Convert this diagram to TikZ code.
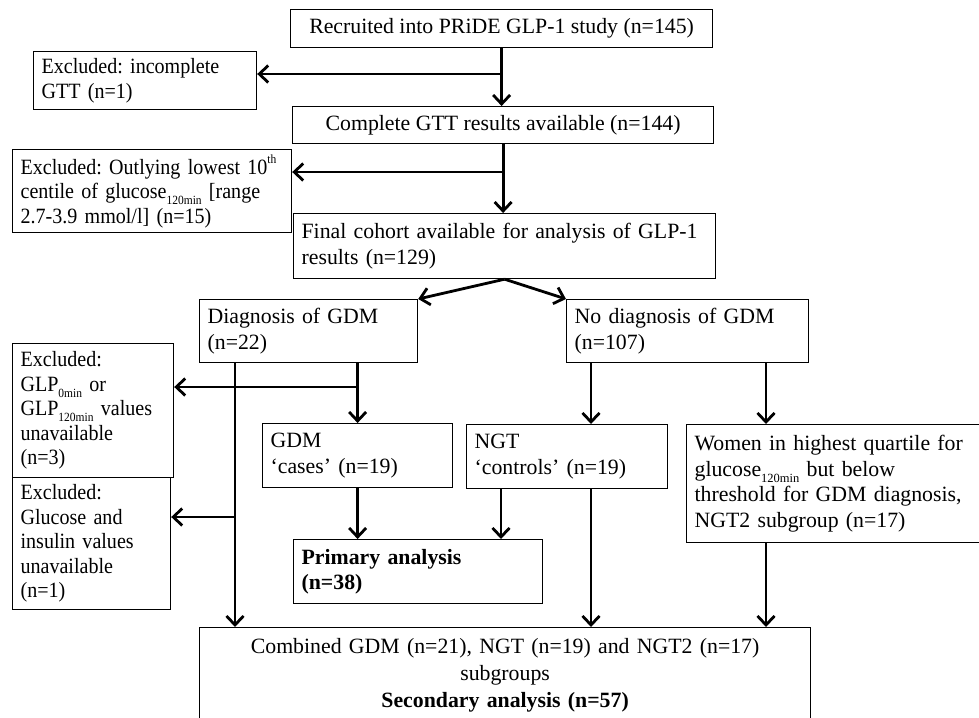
\documentclass[tikz,border=0pt]{standalone}
\usepackage{fontspec}
\setmainfont{Liberation Serif}
\newfontfamily\narrowserif{Liberation Serif}[FakeStretch=0.92]
\usepackage{tikz}
\usetikzlibrary{calc}
\usetikzlibrary{arrows.meta}
\frenchspacing
\newcommand{\flowfont}{\fontsize{21.8}{25.5}\selectfont\frenchspacing}
\newcommand{\exclfont}{\narrowserif\fontsize{21.8}{24.5}\selectfont\frenchspacing}
\newcommand{\lowidx}[1]{\raisebox{-0.28em}{\fontsize{12.5}{12.5}\selectfont #1}}
\newcommand{\upidx}[1]{\raisebox{0.5em}{\fontsize{12.5}{12.5}\selectfont #1}}
\tikzset{
  box/.style={draw, line width=1.2pt, inner xsep=8pt, inner ysep=0pt,
    align=left, anchor=north west, font=\flowfont},
  excl/.style={box, font=\exclfont},
  flow/.style={line width=2.8pt, -{Straight Barb[length=9pt,width=17pt,line width=2.8pt]}}
}

\begin{document}
\begin{tikzpicture}[x=1pt,y=-1pt]
                \useasboundingbox (0,0) rectangle (979,717);

                % Main chain
                \node[box, align=center, minimum width=422pt, minimum height=38pt] (rec) at (290,9)
                  {Recruited into PRiDE GLP-1 study (n=145)};
                \node[box, align=center, minimum width=421pt, minimum height=37pt] (gtt) at (292,106)
                  {Complete GTT results available (n=144)};
                \node[box, text width=406pt, minimum width=422pt, minimum height=65pt] (cohort) at (293,213)
                  {Final cohort available for analysis of GLP-1\\results (n=129)};

                % Exclusions
                \node[excl, text width=207pt, minimum width=223pt, minimum height=58pt] (exc1) at (33,51)
                  {Excluded: incomplete\\GTT (n=1)};
                \node[excl, text width=263pt, minimum width=279pt, minimum height=83pt] (exc2) at (12,149)
                  {Excluded: Outlying lowest 10\upidx{th}\\centile of glucose\lowidx{120min} [range\\2.7-3.9 mmol/l] (n=15)};
                \node[excl, text width=145pt, minimum width=161pt, minimum height=134pt] (excglp) at (12,343)
                  {Excluded:\\GLP\lowidx{0min} or\\GLP\lowidx{120min} values\\unavailable\\(n=3)};
                \node[excl, text width=142pt, minimum width=158pt, minimum height=132pt] (excglu) at (12,477)
                  {Excluded:\\Glucose and\\insulin values\\unavailable\\(n=1)};

                % Groups
                \node[box, text width=202pt, minimum width=218pt, minimum height=63pt] (diag) at (199,299)
                  {Diagnosis of GDM\\(n=22)};
                \node[box, text width=226pt, minimum width=242pt, minimum height=63pt] (nodiag) at (566,299)
                  {No diagnosis of GDM\\(n=107)};
                \node[box, text width=174pt, minimum width=190pt, minimum height=64pt] (cases) at (262,423)
                  {GDM\\‘cases’ (n=19)};
                \node[box, text width=185pt, minimum width=201pt, minimum height=64pt] (ngt) at (466,424)
                  {NGT\\‘controls’ (n=19)};
                \node[box, text width=280pt, minimum width=296pt, minimum height=118pt] (women) at (686,424)
                  {Women in highest quartile for\\glucose\lowidx{120min} but below\\threshold for GDM diagnosis,\\NGT2 subgroup (n=17)};

                % Analyses
                \node[box, text width=233pt, minimum width=249pt, minimum height=64pt] (primary) at (293,539)
                  {\bfseries Primary analysis\\\bfseries (n=38)};
                \node[box, align=center, text width=595pt, minimum width=611pt, minimum height=96pt,
                  font=\fontsize{21.8}{27}\selectfont] (combined) at (199,627)
                  {Combined GDM (n=21), NGT (n=19) and NGT2 (n=17)\\subgroups\\\bfseries Secondary analysis (n=57)};

                % Branch points
                \coordinate (j1) at (501,74);
                \coordinate (j2) at (503,172);
                \coordinate (j3) at (357,387);
                \coordinate (j4) at (235,517);
                \coordinate (xl) at (235,0);
                \coordinate (xa) at (501,0);
                \coordinate (xb) at (591,0);
                \coordinate (xc) at (766,0);

                % Draw arrows
                \draw[flow] (rec.south) -- (rec.south |- gtt.north);
                \draw[flow] (j1) -- (j1 -| exc1.east);
                \draw[flow] (gtt.south) -- (gtt.south |- cohort.north);
                \draw[flow] (j2) -- (j2 -| exc2.east);
                \draw[flow] (cohort.south) -- (diag.north east);
                \draw[flow] (cohort.south) -- (nodiag.north west);

                \draw[flow] (diag.south -| xl) -- (combined.north -| xl);
                \draw[flow] (j4) -- (j4 -| excglu.east);
                \draw[flow] (diag.south -| cases.north) -- (cases.north);
                \draw[flow] (j3) -- (j3 -| excglp.east);
                \draw[flow] (cases.south) -- (cases.south |- primary.north);

                \draw[flow] (nodiag.south -| xb) -- (ngt.north -| xb);
                \draw[flow] (nodiag.south -| xc) -- (women.north -| xc);
                \draw[flow] (ngt.south -| xa) -- (primary.north -| xa);
                \draw[flow] (ngt.south -| xb) -- (combined.north -| xb);
                \draw[flow] (women.south -| xc) -- (combined.north -| xc);
            \end{tikzpicture}
\end{document}
